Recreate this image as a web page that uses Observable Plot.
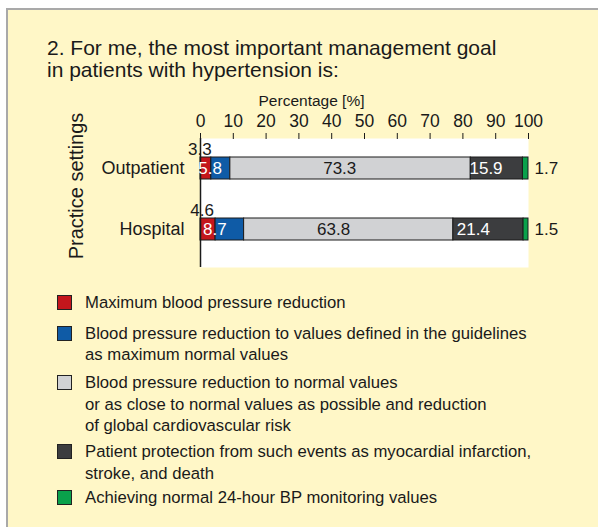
<!DOCTYPE html>
<html><head><meta charset="utf-8">
<script src="https://cdn.jsdelivr.net/npm/d3@7"></script>
<script src="https://cdn.jsdelivr.net/npm/@observablehq/plot@0.6"></script>
<style>
body{margin:0;background:#fff;font-family:"Liberation Sans",Arial,sans-serif;color:#1a1a1a;width:598px;height:527px;overflow:hidden;position:relative;}
#panel{position:absolute;left:6px;top:8px;width:600px;height:530px;background:#fff7c7;border-top:2px solid #a9a9a9;border-left:2px solid #a9a9a9;}
#title{position:absolute;left:47px;top:37px;font-size:21px;line-height:22px;}
#chart{position:absolute;left:0;top:85px;}
#ylab{position:absolute;left:76px;top:186px;font-size:20px;white-space:nowrap;transform:translate(-50%,-50%) rotate(-90deg);}
#legend{position:absolute;left:57px;top:292px;font-size:16.7px;}
.item{display:flex;align-items:flex-start;line-height:21.5px;}
.item:nth-child(1){margin-bottom:9px;}
.item:nth-child(2){margin-bottom:6.5px;}
.item:nth-child(3){margin-bottom:4.5px;}
.item:nth-child(4){margin-bottom:3px;}
.sw{width:13px;height:13px;border:1px solid #222;margin-top:3px;margin-right:13px;flex:none;}
</style></head>
<body>
<div id="panel"></div>
<div id="title">2. For me, the most important management goal<br>in patients with hypertension is:</div>
<div id="chart"></div>
<div id="ylab"></div>
<div id="legend"></div>
<script>
const settings = ["Outpatient", "Hospital"];
const goalLines = [
  ["Maximum blood pressure reduction"],
  ["Blood pressure reduction to values defined in the guidelines", "as maximum normal values"],
  ["Blood pressure reduction to normal values", "or as close to normal values as possible and reduction", "of global cardiovascular risk"],
  ["Patient protection from such events as myocardial infarction,", "stroke, and death"],
  ["Achieving normal 24-hour BP monitoring values"]
];
const outpatient = [3.3, 5.8, 73.3, 15.9, 1.7];
const hospital = [4.6, 8.7, 63.8, 21.4, 1.5];
const colors = ["#c4161c", "#0f5ba6", "#d1d2d4", "#3c3d3f", "#0aa14b"];
const xTicks = [0, 10, 20, 30, 40, 50, 60, 70, 80, 90, 100];
const axisLabel = "Percentage [%]";
const yLabel = "Practice settings";

const goals = goalLines.map(l => l.join(" "));
const series = {Outpatient: outpatient, Hospital: hospital};
const rows = [];
for (const s of settings) series[s].forEach((v, i) => rows.push({setting: s, goal: goals[i], i, value: v}));
const totals = Object.fromEntries(settings.map(s => [s, d3.sum(series[s])]));

const fnt = "'Liberation Sans', Arial, sans-serif";
const chart = Plot.plot({
  width: 598, height: 190,
  marginTop: 53, marginBottom: 8, marginLeft: 200, marginRight: 70,
  style: {background: "transparent", fontFamily: fnt, fontSize: "16px", color: "#1a1a1a", overflow: "visible"},
  x: {domain: [0, 100]},
  y: {domain: settings, paddingInner: 0.64, paddingOuter: 0.31, insetBottom: 8},
  color: {domain: goals, range: colors},
  marks: [
    Plot.frame({fill: "white", stroke: null}),
    Plot.barX(rows, {x: "value", y: "setting", fill: "goal", stroke: "#1a1a1a", strokeWidth: 1}),
    Plot.ruleX([0], {stroke: "#1a1a1a", strokeWidth: 1.5}),
    Plot.text(rows.filter(d => d.i >= 1 && d.i <= 3), Plot.stackX({
      x: "value", y: "setting", text: d => d.value.toFixed(1),
      fill: d => d.i === 2 ? "#1a1a1a" : "white", fontSize: 17
    })),
    Plot.text(rows.filter(d => d.i === 0), {
      x: d => d.value / 2, y: "setting", text: d => d.value.toFixed(1),
      dx: -6, dy: -19, fill: "#1a1a1a", fontSize: 17
    }),
    Plot.text(rows.filter(d => d.i === 4), {
      x: d => totals[d.setting], y: "setting", text: d => d.value.toFixed(1),
      textAnchor: "start", dx: 6, fill: "#1a1a1a", fontSize: 17
    }),
    Plot.axisX(xTicks, {anchor: "top", tickSize: 6, tickPadding: 6, fontSize: 17.5, label: null}),
    Plot.axisY({tickSize: 0, tickPadding: 16, fontSize: 18, label: null}),
    Plot.text([axisLabel], {frameAnchor: "top", dx: -53, dy: -44, fontSize: 15.5})
  ]
});
document.getElementById("chart").appendChild(chart);
document.getElementById("ylab").textContent = yLabel;

const legend = d3.select("#legend");
goalLines.forEach((lines, i) => {
  const it = legend.append("div").attr("class", "item");
  it.append("div").attr("class", "sw").style("background", colors[i]);
  it.append("div").html(lines.join("<br>"));
});
</script>
</body></html>
